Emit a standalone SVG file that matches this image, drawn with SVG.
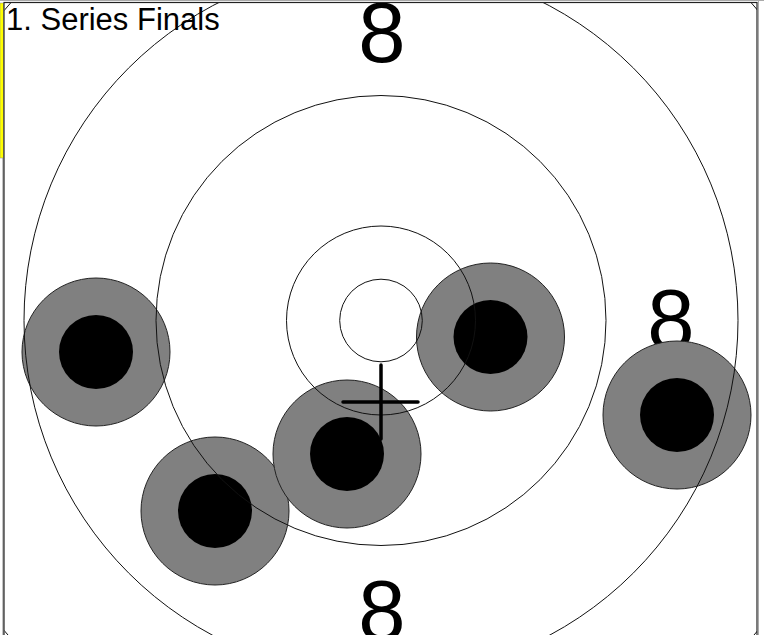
<svg xmlns="http://www.w3.org/2000/svg" width="764" height="635" viewBox="0 0 764 635">
  <style>
    .ring { fill: none; stroke: #111; stroke-width: 1; }
    .lbl { font-family: "Liberation Sans", Arial, sans-serif; font-size: 85px; fill: #000; text-anchor: middle; }
    .shot-outer { fill: #808080; stroke: #222; stroke-width: 1; }
    .shot-inner { fill: #000; }
    .cross { stroke: #000; stroke-width: 3.5; stroke-linecap: round; }
    .title { font-family: "Liberation Sans", Arial, sans-serif; font-size: 31px; fill: #000; }
  </style>
  <defs>
    <clipPath id="frameClip">
      <rect x="4.5" y="3" width="752.5" height="640"/>
    </clipPath>
  </defs>
  <rect x="0" y="0" width="764" height="635" fill="#fff"/>
  <g id="sidebar">
    <rect x="0" y="3" width="3.5" height="155" fill="#ffff00" stroke="#888" stroke-width="0.5"/>
    <line x1="3" y1="158" x2="3" y2="635" stroke="#888" stroke-width="1"/>
  </g>
  <g id="frame">
    <rect x="4" y="2.5" width="753" height="645" fill="#fff" stroke="#222" stroke-width="1.2"/>
    <line x1="0" y1="0.5" x2="764" y2="0.5" stroke="#aaa" stroke-width="1"/>
    <line x1="758.5" y1="0" x2="758.5" y2="635" stroke="#aaa" stroke-width="1"/>
  </g>
  <g clip-path="url(#frameClip)">
    <g id="labels">
      <text class="lbl" x="382" y="62">8</text>
      <text class="lbl" x="671" y="349">8</text>
      <text class="lbl" x="382" y="640">8</text>
    </g>
    <g id="shots">
      <g id="shot1"><circle class="shot-outer" cx="96" cy="352" r="74"/><circle class="shot-inner" cx="96" cy="352" r="37"/></g>
      <g id="shot2"><circle class="shot-outer" cx="215" cy="511" r="74"/><circle class="shot-inner" cx="215" cy="511" r="37"/></g>
      <g id="shot3"><circle class="shot-outer" cx="347" cy="454" r="74"/><circle class="shot-inner" cx="347" cy="454" r="37"/></g>
      <g id="shot4"><circle class="shot-outer" cx="490.5" cy="337" r="74"/><circle class="shot-inner" cx="490.5" cy="337" r="37"/></g>
      <g id="shot5"><circle class="shot-outer" cx="677" cy="415" r="74"/><circle class="shot-inner" cx="677" cy="415" r="37"/></g>
    </g>
    <g id="rings">
      <circle class="ring" cx="381" cy="320.5" r="41.3"/>
      <circle class="ring" cx="381" cy="320.5" r="94.5"/>
      <circle class="ring" cx="381" cy="320.5" r="225"/>
      <circle class="ring" cx="381" cy="320.5" r="357"/>
      <circle class="ring" cx="381" cy="320.5" r="488"/>
    </g>
    <g id="crosshair">
      <line class="cross" x1="381" y1="365" x2="381" y2="439"/>
      <line class="cross" x1="343" y1="402" x2="418" y2="402"/>
    </g>
    <text id="title" class="title" x="6" y="30">1. Series Finals</text>
  </g>
</svg>
